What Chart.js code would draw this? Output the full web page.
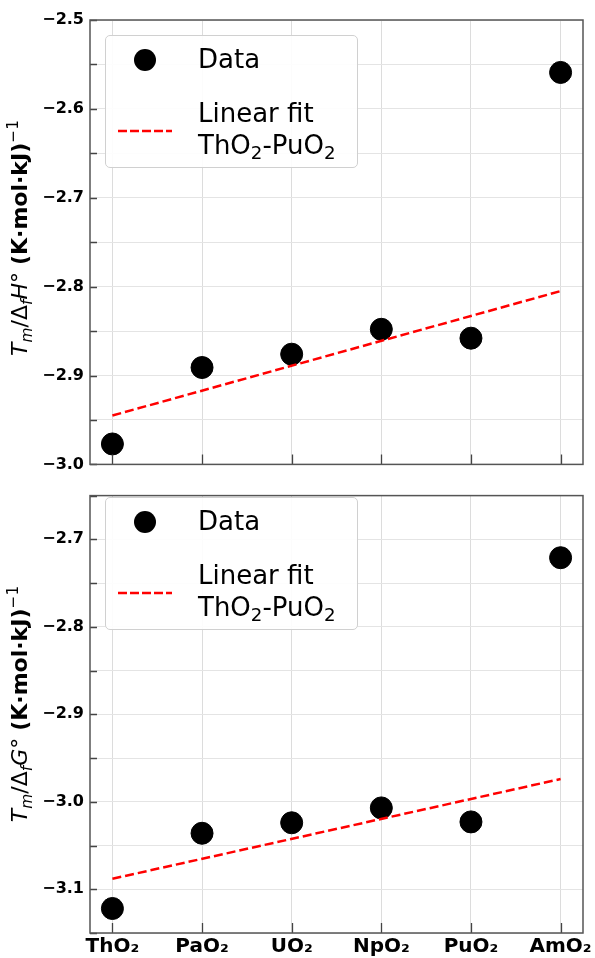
<!DOCTYPE html>
<html>
<head>
<meta charset="utf-8">
<script src="https://cdn.jsdelivr.net/npm/chart.js@4.4.0/dist/chart.umd.min.js"></script>
<style>
  body { margin: 0; background: #fff; }
  #wrap { position: relative; width: 595px; height: 958px; font-family: "DejaVu Sans", sans-serif; color: #000; }
  canvas { position: absolute; left: 0; }
  .legend { position: absolute; left: 105px; width: 253px; height: 133px; box-sizing: border-box;
            border: 1px solid #d0d0d0; border-radius: 5px; background: rgba(255,255,255,0.9); }
  .legend .dot { position: absolute; left: 28px; top: 13px; width: 22px; height: 22px; border-radius: 50%; background: #000; }
  .legend svg { position: absolute; left: 11px; top: 89px; }
  .legend .txt { position: absolute; left: 92px; font-size: 26px; line-height: 32px; white-space: nowrap; }
  .legend sub { font-size: 70%; line-height: 0; vertical-align: -0.3em; }
  .ytitle { position: absolute; width: 400px; left: -180px; height: 30px; line-height: 30px; text-align: center;
            font-size: 22px; white-space: nowrap; transform: rotate(-90deg); }
  .ytitle sub, .ytitle sup { font-size: 70%; line-height: 0; }
  .ytitle sub { vertical-align: -0.3em; }
  .ytitle sup { vertical-align: 0.6em; }
</style>
</head>
<body>
<div id="wrap">
  <canvas id="enthalpyChart" width="595" height="480" style="top:0"></canvas>
  <canvas id="gibbsChart" width="595" height="478" style="top:480px"></canvas>

  <div class="ytitle" style="top:223px"><i>T</i><sub><i>m</i></sub>/Δ<sub><i>f</i></sub><i>H</i>° <b>(K·mol·kJ)</b><sup>−1</sup></div>
  <div class="ytitle" style="top:689px"><i>T</i><sub><i>m</i></sub>/Δ<sub><i>f</i></sub><i>G</i>° <b>(K·mol·kJ)</b><sup>−1</sup></div>

  <div class="legend" style="top:35px">
    <div class="dot"></div>
    <div class="txt" style="top:7px">Data</div>
    <svg width="56" height="12"><line x1="1" y1="6" x2="55" y2="6" stroke="#ff0000" stroke-width="2.5" stroke-dasharray="9 3"/></svg>
    <div class="txt" style="top:61px">Linear fit<br>ThO<sub>2</sub>-PuO<sub>2</sub></div>
  </div>
  <div class="legend" style="top:497px">
    <div class="dot"></div>
    <div class="txt" style="top:7px">Data</div>
    <svg width="56" height="12"><line x1="1" y1="6" x2="55" y2="6" stroke="#ff0000" stroke-width="2.5" stroke-dasharray="9 3"/></svg>
    <div class="txt" style="top:61px">Linear fit<br>ThO<sub>2</sub>-PuO<sub>2</sub></div>
  </div>
</div>

<script>
// --- Data ---
const compounds = ['ThO₂', 'PaO₂', 'UO₂', 'NpO₂', 'PuO₂', 'AmO₂'];
const enthalpyRatio = [-2.977, -2.891, -2.876, -2.848, -2.858, -2.559];
const gibbsRatio = [-3.122, -3.036, -3.024, -3.007, -3.023, -2.721];

// linear fit (ThO2-PuO2) drawn from ThO2 to AmO2
const fitIdx = [0, 5];
const enthalpyFit = [-2.945, -2.805];
const gibbsFit = [-3.088, -2.974];

// y ranges and tick step (labels every 0.1, ticks every 0.05)
const enthalpyRange = [-3.0, -2.5];
const gibbsRange = [-3.15, -2.65];
const tickStep = 0.05;

function stepTicks(min, max) {
    const out = [];
    const n = Math.round((max - min) / tickStep);
    for (let i = 0; i <= n; i++) out.push(+(min + i * tickStep).toFixed(3));
    return out;
}

function isMajor(v) {
    return Math.abs(v * 10 - Math.round(v * 10)) < 1e-6;
}

// frame + inward tick marks, like the matplotlib original
const frameTicks = {
    id: 'frameTicks',
    afterDraw(chart) {
        const { ctx, chartArea: a, scales } = chart;
        ctx.save();
        ctx.strokeStyle = '#444';
        ctx.lineWidth = 1.3;
        ctx.beginPath();
        scales.y.ticks.forEach(t => {
            const y = Math.round(scales.y.getPixelForValue(t.value)) + 0.5;
            ctx.moveTo(a.left, y);
            ctx.lineTo(a.left + 7, y);
        });
        scales.x.ticks.forEach(t => {
            const x = Math.round(scales.x.getPixelForValue(t.value)) + 0.5;
            ctx.moveTo(x, a.bottom);
            ctx.lineTo(x, a.bottom - 10);
        });
        ctx.stroke();
        ctx.lineWidth = 1.5;
        ctx.strokeStyle = '#555';
        ctx.strokeRect(a.left, a.top, a.right - a.left, a.bottom - a.top);
        ctx.restore();
    }
};

function makePanel(canvasId, values, fit, range, showLabels, xHeight, topPad) {
    const ctx = document.getElementById(canvasId).getContext('2d');
    return new Chart(ctx, {
        type: 'scatter',
        data: {
            datasets: [{
                type: 'line',
                data: fitIdx.map((x, i) => ({ x: x, y: fit[i] })),
                borderColor: '#ff0000',
                borderDash: [9, 4],
                borderWidth: 2.5,
                pointRadius: 0,
                fill: false,
                order: 0
            }, {
                data: values.map((v, i) => ({ x: i, y: v })),
                pointRadius: 11,
                pointHoverRadius: 11,
                backgroundColor: '#000',
                borderColor: '#000',
                order: 1
            }]
        },
        options: {
            responsive: false,
            animation: false,
            layout: { padding: { top: topPad, right: 12, left: 0, bottom: 0 } },
            plugins: { legend: { display: false }, tooltip: { enabled: false } },
            scales: {
                x: {
                    type: 'linear',
                    min: -0.25,
                    max: compounds.length - 0.75,
                    afterBuildTicks: s => { s.ticks = compounds.map((c, i) => ({ value: i })); },
                    afterFit: s => { s.height = xHeight; },
                    grid: { color: '#dcdcdc', lineWidth: 1, drawTicks: false },
                    border: { display: false },
                    ticks: {
                        display: showLabels,
                        autoSkip: false,
                        maxRotation: 0,
                        padding: 2,
                        color: '#000',
                        font: { family: 'DejaVu Sans', size: 20, weight: 'bold' },
                        callback: v => compounds[v]
                    }
                },
                y: {
                    min: range[0],
                    max: range[1],
                    afterBuildTicks: s => { s.ticks = stepTicks(range[0], range[1]).map(v => ({ value: v })); },
                    afterFit: s => { s.width = 90; },
                    grid: { color: '#e4e4e4', lineWidth: 1, drawTicks: false },
                    border: { display: false },
                    ticks: {
                        autoSkip: false,
                        padding: 6,
                        color: '#000',
                        font: { family: 'DejaVu Sans', size: 16, weight: 'bold' },
                        callback: v => isMajor(v) ? v.toFixed(1).replace('-', '\u2212') : ''
                    }
                }
            }
        },
        plugins: [frameTicks]
    });
}

makePanel('enthalpyChart', enthalpyRatio, enthalpyFit, enthalpyRange, false, 10, 20);
makePanel('gibbsChart', gibbsRatio, gibbsFit, gibbsRange, true, 25, 3);
</script>
</body>
</html>
